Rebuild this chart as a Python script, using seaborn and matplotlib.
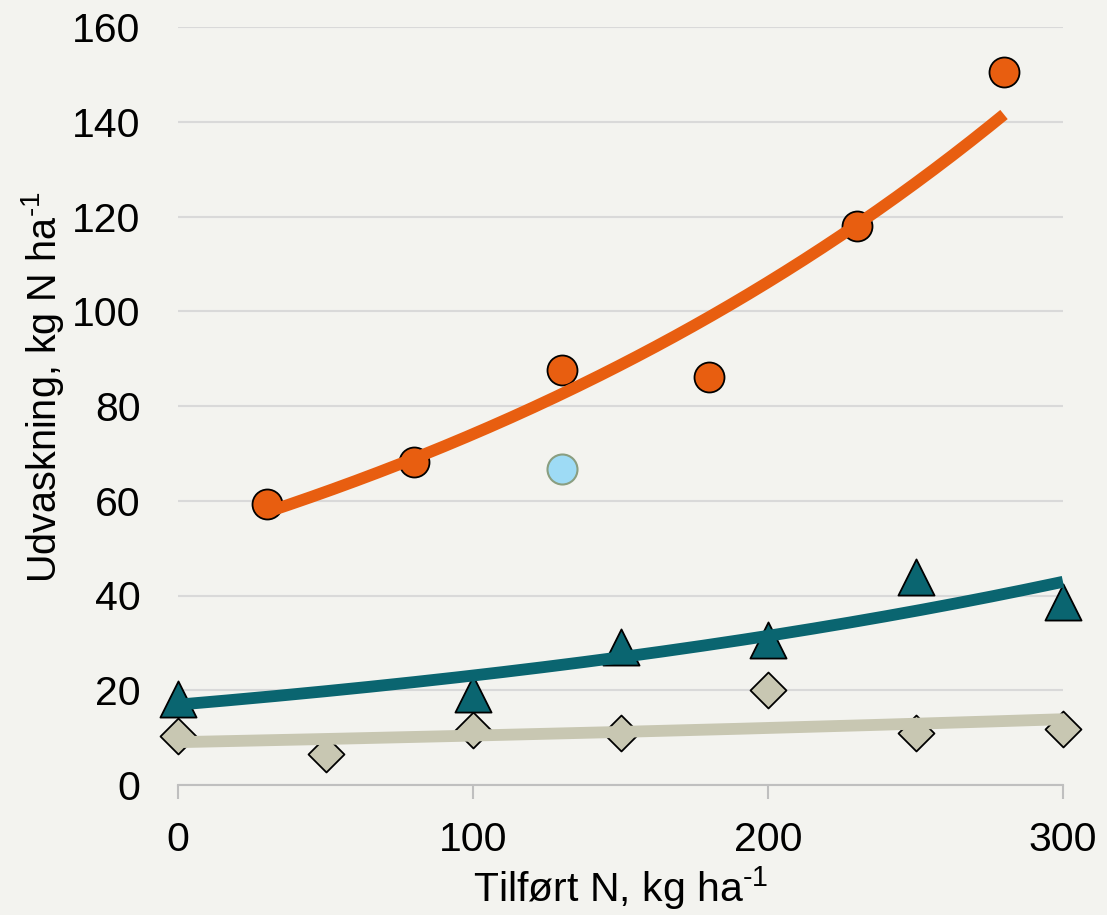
import numpy as np
import pandas as pd
import matplotlib
matplotlib.use("Agg")
import matplotlib.pyplot as plt
import seaborn as sns

# Measured leaching (kg N/ha) against applied N (kg N/ha)
orange_x = [30, 80, 130, 180, 230, 280]
orange_y = [59.3, 68.1, 87.5, 86.1, 118.1, 150.6]

blue_x = [130]
blue_y = [66.7]

teal_x = [0, 100, 150, 200, 250, 300]
teal_y = [18.1, 19.2, 29.1, 30.6, 43.9, 38.6]

beige_x = [0, 50, 100, 150, 200, 250, 300]
beige_y = [10.3, 6.5, 11.6, 11.0, 20.0, 11.0, 11.8]

x_ticks = [0, 100, 200, 300]
y_ticks = [0, 20, 40, 60, 80, 100, 120, 140, 160]

BG = "#F3F3EF"
ORANGE = "#E85E10"
TEAL = "#0A6570"
BEIGE = "#C8C7B2"
LIGHTBLUE = "#9EDBF5"

sns.set_theme(style="white")
plt.rcParams["font.family"] = ["Liberation Sans", "DejaVu Sans"]
plt.rcParams["mathtext.fontset"] = "custom"
plt.rcParams["mathtext.rm"] = "Liberation Sans"
plt.rcParams["mathtext.default"] = "regular"
plt.rcParams["text.color"] = "black"
plt.rcParams["axes.labelcolor"] = "black"
plt.rcParams["xtick.color"] = "black"
plt.rcParams["ytick.color"] = "black"

fig = plt.figure(figsize=(11.07, 9.15), dpi=100, facecolor=BG)
ax = fig.add_axes([178 / 1107, 1 - 785 / 915, (1063 - 178) / 1107, (785 - 27) / 915])
ax.set_facecolor(BG)


def exp_trend(x, y, n=200):
    """Exponential least-squares trend (fit on log y), evaluated over the data range."""
    x = np.asarray(x, float)
    b, lna = np.polyfit(x, np.log(y), 1)
    xs = np.linspace(x.min(), x.max(), n)
    return pd.DataFrame({"x": xs, "y": np.exp(lna) * np.exp(b * xs)})


scatter_kw = dict(ax=ax, edgecolor="black", linewidth=1.3, clip_on=False, zorder=3, legend=False)

sns.scatterplot(data=pd.DataFrame({"x": beige_x, "y": beige_y}), x="x", y="y",
                marker="D", s=18.3 ** 2, color=BEIGE, **scatter_kw)
sns.scatterplot(data=pd.DataFrame({"x": teal_x, "y": teal_y}), x="x", y="y",
                marker="^", s=26 ** 2, color=TEAL, **scatter_kw)
sns.scatterplot(data=pd.DataFrame({"x": orange_x, "y": orange_y}), x="x", y="y",
                marker="o", s=21.6 ** 2, color=ORANGE, **scatter_kw)
sns.scatterplot(data=pd.DataFrame({"x": blue_x, "y": blue_y}), x="x", y="y",
                marker="o", s=21.6 ** 2, color=LIGHTBLUE, ax=ax, edgecolor="#8A9E80",
                linewidth=1.5, clip_on=False, zorder=3, legend=False)

line_kw = dict(ax=ax, linewidth=8.5, legend=False, zorder=4)
sns.lineplot(data=exp_trend(beige_x, beige_y), x="x", y="y", color=BEIGE, **line_kw)
sns.lineplot(data=exp_trend(teal_x, teal_y), x="x", y="y", color=TEAL, **line_kw)
sns.lineplot(data=exp_trend(orange_x, orange_y), x="x", y="y", color=ORANGE, **line_kw)
for ln in ax.lines:
    ln.set_clip_on(False)
    ln.set_solid_capstyle("butt")

ax.set_xlim(0, 300)
ax.set_ylim(0, 160)
ax.set_xticks(x_ticks)
ax.set_yticks(y_ticks)
ax.set_xticklabels([str(v) for v in x_ticks])
ax.set_yticklabels([str(v) for v in y_ticks])

ax.grid(axis="y", color="#D9D9D9", linewidth=1.5, zorder=0)
ax.grid(axis="x", visible=False)
ax.set_axisbelow(True)

for side in ["left", "right", "top"]:
    ax.spines[side].set_visible(False)
ax.spines["bottom"].set_color("#BFBFBF")
ax.spines["bottom"].set_linewidth(1.5)

ax.tick_params(axis="x", which="major", direction="out", length=10, width=1.5,
               color="#BFBFBF", labelcolor="black", labelsize=29.5, pad=16, bottom=True)
ax.tick_params(axis="y", length=0, labelsize=29.5, labelcolor="black", pad=27)

ax.set_xlabel("Tilført N, kg ha$^{\u20101}$", fontsize=29.5, labelpad=4)
ax.set_ylabel("Udvaskning, kg N ha$^{\u20101}$", fontsize=28.5, labelpad=6)
ax.yaxis.set_label_coords(-0.127, 0.525)

fig.savefig("out.png", dpi=100, facecolor=BG)
